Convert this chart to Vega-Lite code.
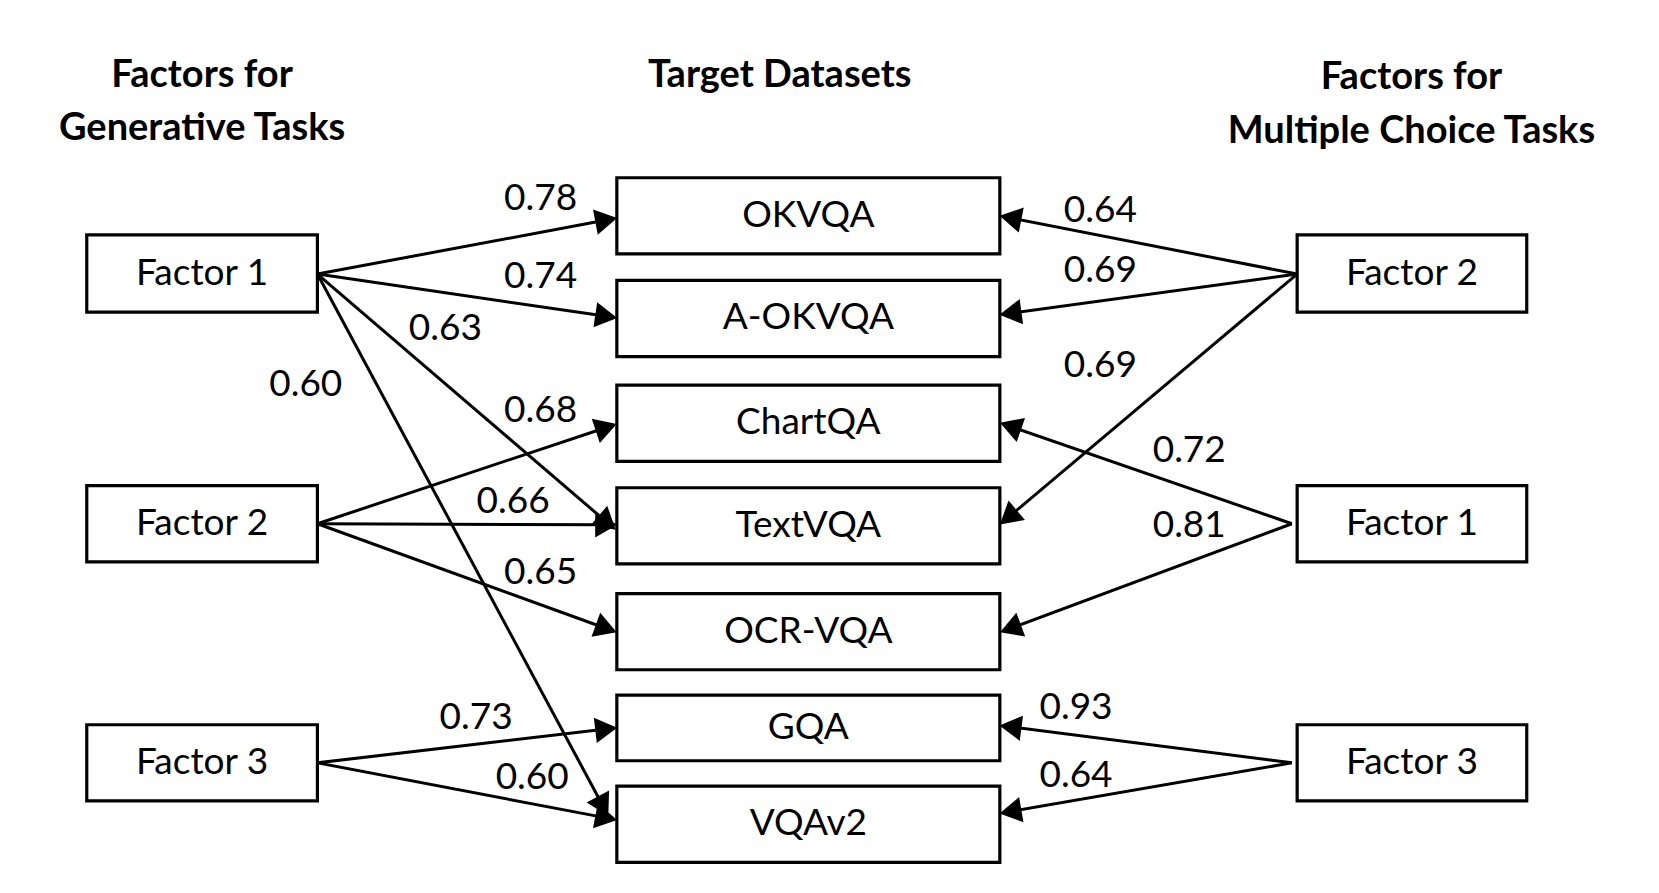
{
  "$schema": "https://vega.github.io/schema/vega-lite/v6.json",
  "width": 1659,
  "height": 893,
  "autosize": {"type": "fit", "contains": "padding"},
  "padding": 0,
  "background": "white",
  "config": {"view": {"stroke": null}, "font": "Lato"},
  "datasets": {
    "boxes": [
      {"name": "Factor 1", "x1": 82, "x2": 300, "y1": 222, "y2": 295},
      {"name": "Factor 2", "x1": 82, "x2": 300, "y1": 459, "y2": 531},
      {"name": "Factor 3", "x1": 82, "x2": 300, "y1": 685, "y2": 757},
      {"name": "OKVQA", "x1": 583, "x2": 945, "y1": 168, "y2": 240},
      {"name": "A-OKVQA", "x1": 583, "x2": 945, "y1": 265, "y2": 337},
      {"name": "ChartQA", "x1": 583, "x2": 945, "y1": 364, "y2": 436},
      {"name": "TextVQA", "x1": 583, "x2": 945, "y1": 461, "y2": 533},
      {"name": "OCR-VQA", "x1": 583, "x2": 945, "y1": 561, "y2": 633},
      {"name": "GQA", "x1": 583, "x2": 945, "y1": 657, "y2": 719},
      {"name": "VQAv2", "x1": 583, "x2": 945, "y1": 743, "y2": 815},
      {"name": "Factor 2", "x1": 1226, "x2": 1443, "y1": 222, "y2": 295},
      {"name": "Factor 1", "x1": 1226, "x2": 1443, "y1": 459, "y2": 531},
      {"name": "Factor 3", "x1": 1226, "x2": 1443, "y1": 685, "y2": 757}
    ],
    "edges": [
      {"x1": 300, "y1": 259, "x2": 573, "y2": 208, "w": "0.78", "lx": 511, "ly": 188},
      {"x1": 300, "y1": 259, "x2": 573, "y2": 299, "w": "0.74", "lx": 511, "ly": 262},
      {"x1": 300, "y1": 259, "x2": 574, "y2": 494, "w": "0.63", "lx": 421, "ly": 311},
      {"x1": 300, "y1": 259, "x2": 570, "y2": 762, "w": "0.60", "lx": 289, "ly": 364},
      {"x1": 300, "y1": 495, "x2": 573, "y2": 404, "w": "0.68", "lx": 511, "ly": 388},
      {"x1": 300, "y1": 495, "x2": 573, "y2": 496, "w": "0.66", "lx": 485, "ly": 474},
      {"x1": 300, "y1": 495, "x2": 573, "y2": 594, "w": "0.65", "lx": 511, "ly": 542},
      {"x1": 300, "y1": 721, "x2": 573, "y2": 689, "w": "0.73", "lx": 450, "ly": 679},
      {"x1": 300, "y1": 721, "x2": 573, "y2": 773, "w": "0.60", "lx": 503, "ly": 735},
      {"x1": 1226, "y1": 259, "x2": 955, "y2": 206, "w": "0.64", "lx": 1040, "ly": 199},
      {"x1": 1226, "y1": 259, "x2": 955, "y2": 296, "w": "0.69", "lx": 1040, "ly": 256},
      {"x1": 1226, "y1": 259, "x2": 953, "y2": 489, "w": "0.69", "lx": 1040, "ly": 346},
      {"x1": 1221, "y1": 495, "x2": 955, "y2": 403, "w": "0.72", "lx": 1124, "ly": 426},
      {"x1": 1221, "y1": 495, "x2": 955, "y2": 594, "w": "0.81", "lx": 1124, "ly": 497},
      {"x1": 1221, "y1": 721, "x2": 955, "y2": 687, "w": "0.93", "lx": 1017, "ly": 669},
      {"x1": 1221, "y1": 721, "x2": 955, "y2": 767, "w": "0.64", "lx": 1017, "ly": 733}
    ],
    "titles": [
      {"t": "Factors for", "x": 191, "y": 72},
      {"t": "Generative Tasks", "x": 191, "y": 122},
      {"t": "Target Datasets", "x": 737, "y": 72},
      {"t": "Factors for", "x": 1334, "y": 74},
      {"t": "Multiple Choice Tasks", "x": 1334, "y": 125}
    ]
  },
  "layer": [
    {
      "data": {"name": "edges"},
      "mark": {"type": "rule", "color": "black", "strokeWidth": 3},
      "encoding": {
        "x": {"field": "x1", "type": "quantitative", "scale": {"domain": [0, 1568]}, "axis": null},
        "y": {"field": "y1", "type": "quantitative", "scale": {"domain": [844, 0]}, "axis": null},
        "x2": {"field": "x2"},
        "y2": {"field": "y2"}
      }
    },
    {
      "data": {"name": "edges"},
      "transform": [
        {"calculate": "atan2(datum.y2 - datum.y1, datum.x2 - datum.x1) * 180 / PI", "as": "ang"}
      ],
      "mark": {"type": "point", "shape": "triangle-right", "filled": true, "color": "black", "opacity": 1, "size": 650},
      "encoding": {
        "x": {"field": "x2", "type": "quantitative", "scale": {"domain": [0, 1568]}, "axis": null},
        "y": {"field": "y2", "type": "quantitative", "scale": {"domain": [844, 0]}, "axis": null},
        "angle": {"field": "ang", "type": "quantitative", "scale": null}
      }
    },
    {
      "data": {"name": "boxes"},
      "mark": {"type": "rect", "fill": "white", "stroke": "black", "strokeWidth": 3.2},
      "encoding": {
        "x": {"field": "x1", "type": "quantitative", "scale": {"domain": [0, 1568]}, "axis": null},
        "x2": {"field": "x2"},
        "y": {"field": "y1", "type": "quantitative", "scale": {"domain": [844, 0]}, "axis": null},
        "y2": {"field": "y2"}
      }
    },
    {
      "data": {"name": "boxes"},
      "transform": [
        {"calculate": "(datum.x1 + datum.x2) / 2", "as": "cx"},
        {"calculate": "(datum.y1 + datum.y2) / 2", "as": "cy"}
      ],
      "mark": {"type": "text", "fontSize": 37, "align": "center", "baseline": "middle", "color": "black"},
      "encoding": {
        "x": {"field": "cx", "type": "quantitative", "scale": {"domain": [0, 1568]}, "axis": null},
        "y": {"field": "cy", "type": "quantitative", "scale": {"domain": [844, 0]}, "axis": null},
        "text": {"field": "name"}
      }
    },
    {
      "data": {"name": "edges"},
      "mark": {"type": "text", "fontSize": 37, "align": "center", "baseline": "middle", "color": "black"},
      "encoding": {
        "x": {"field": "lx", "type": "quantitative", "scale": {"domain": [0, 1568]}, "axis": null},
        "y": {"field": "ly", "type": "quantitative", "scale": {"domain": [844, 0]}, "axis": null},
        "text": {"field": "w"}
      }
    },
    {
      "data": {"name": "titles"},
      "mark": {"type": "text", "fontSize": 38, "fontWeight": "bold", "align": "center", "baseline": "middle", "color": "black"},
      "encoding": {
        "x": {"field": "x", "type": "quantitative", "scale": {"domain": [0, 1568]}, "axis": null},
        "y": {"field": "y", "type": "quantitative", "scale": {"domain": [844, 0]}, "axis": null},
        "text": {"field": "t"}
      }
    }
  ]
}
